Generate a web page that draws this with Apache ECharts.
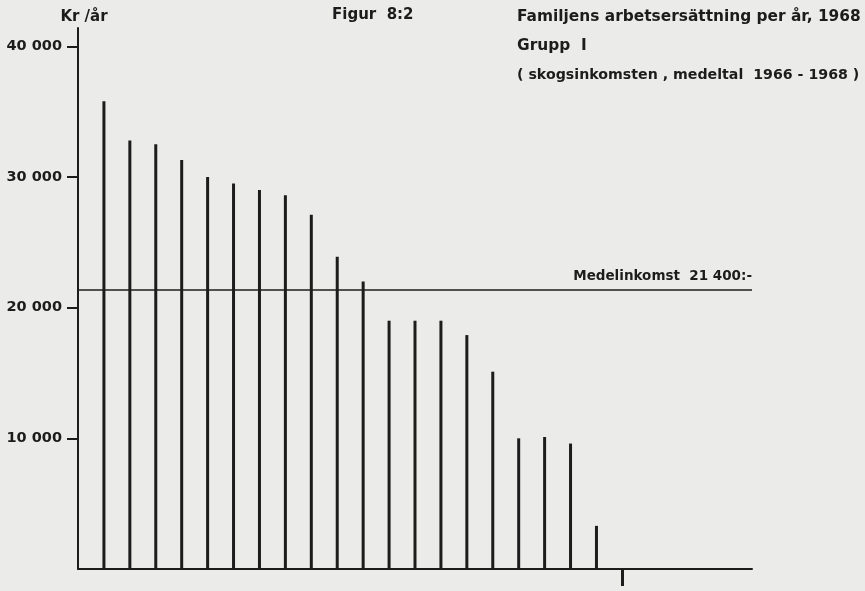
<!DOCTYPE html>
<html>
<head>
<meta charset="utf-8">
<script src="https://cdn.jsdelivr.net/npm/echarts@6/dist/echarts.min.js"></script>
<style>
  html, body { margin: 0; padding: 0; background: #ebebe9; }
  #chart { width: 865px; height: 591px; }
</style>
</head>
<body>
<div id="chart"></div>
<script>
// familjer 1..20 sorterade efter arbetsersättning (kr/år)
const POSITIONS = [1, 2, 3, 4, 5, 6, 7, 8, 9, 10, 11, 12, 13, 14, 15, 16, 17, 18, 19, 20]
const VALUES = [35800, 32800, 32500, 31300, 30000, 29500, 29000, 28600, 27100, 23900,
                22000, 19000, 19000, 19000, 17900, 15100, 10000, 10100, 9600, 3300]
const Y_TICKS = [10000, 20000, 30000, 40000]
const MARK_POS = [21]          // markering under x-axeln
const MEAN = 21400             // Medelinkomst
const INK = '#1c1c1c'
const FONT = 'DejaVu Sans'

const chart = echarts.init(document.getElementById('chart'))

function fmt(v) {
  // 40000 -> "40 000"
  return String(v).replace(/\B(?=(\d{3})+(?!\d))/g, ' ')
}

const titleText = (size) => ({ fontSize: size, lineHeight: 29.5, fontWeight: 'bold', color: INK, fontFamily: FONT })

chart.setOption({
  backgroundColor: '#ebebe9',
  animation: false,
  textStyle: { fontFamily: FONT, color: INK },
  title: [
    { text: 'Figur  8:2', left: 332, top: 8, padding: 0,
      textStyle: { fontSize: 15, fontWeight: 'bold', color: INK, fontFamily: FONT } },
    { text: '{a|Familjens arbetsersättning per år, 1968}\n{a|Grupp  I}\n{b|( skogsinkomsten , medeltal  1966 - 1968 )}',
      left: 517, top: 2, padding: 0,
      textStyle: { rich: { a: titleText(15.4), b: titleText(14.2) } } },
  ],
  grid: { left: 78, right: 113, top: 28, bottom: 22 },
  xAxis: {
    type: 'value', min: 0, max: 26,
    axisLine: { lineStyle: { color: INK, width: 2 } },
    axisTick: { show: true, customValues: MARK_POS, length: 17, lineStyle: { color: INK, width: 3 } },
    axisLabel: { show: false },
    splitLine: { show: false },
  },
  yAxis: {
    type: 'value', min: 0, max: 41400,
    name: 'Kr /år', nameGap: 3,
    nameTextStyle: { fontSize: 15, fontWeight: 'bold', color: INK, padding: [0, 0, 0, 12] },
    axisLine: { show: true, lineStyle: { color: INK, width: 2 } },
    axisTick: { show: true, customValues: Y_TICKS, length: 11, lineStyle: { color: INK, width: 2 } },
    axisLabel: { customValues: Y_TICKS, margin: 16, fontSize: 14.5, fontWeight: 'bold', color: INK, formatter: fmt },
    splitLine: { show: false },
  },
  series: [{
    type: 'bar',
    barWidth: 3,
    data: POSITIONS.map((p, i) => [p, VALUES[i]]),
    itemStyle: { color: INK },
    markLine: {
      silent: true, symbol: 'none',
      lineStyle: { color: INK, width: 1.5, type: 'solid' },
      label: { position: 'insideEndTop', formatter: 'Medelinkomst  21 400:-',
               fontSize: 13.5, fontWeight: 'bold', color: INK, distance: [0, 6] },
      data: [{ yAxis: MEAN }],
    },
  }],
})
</script>
</body>
</html>
